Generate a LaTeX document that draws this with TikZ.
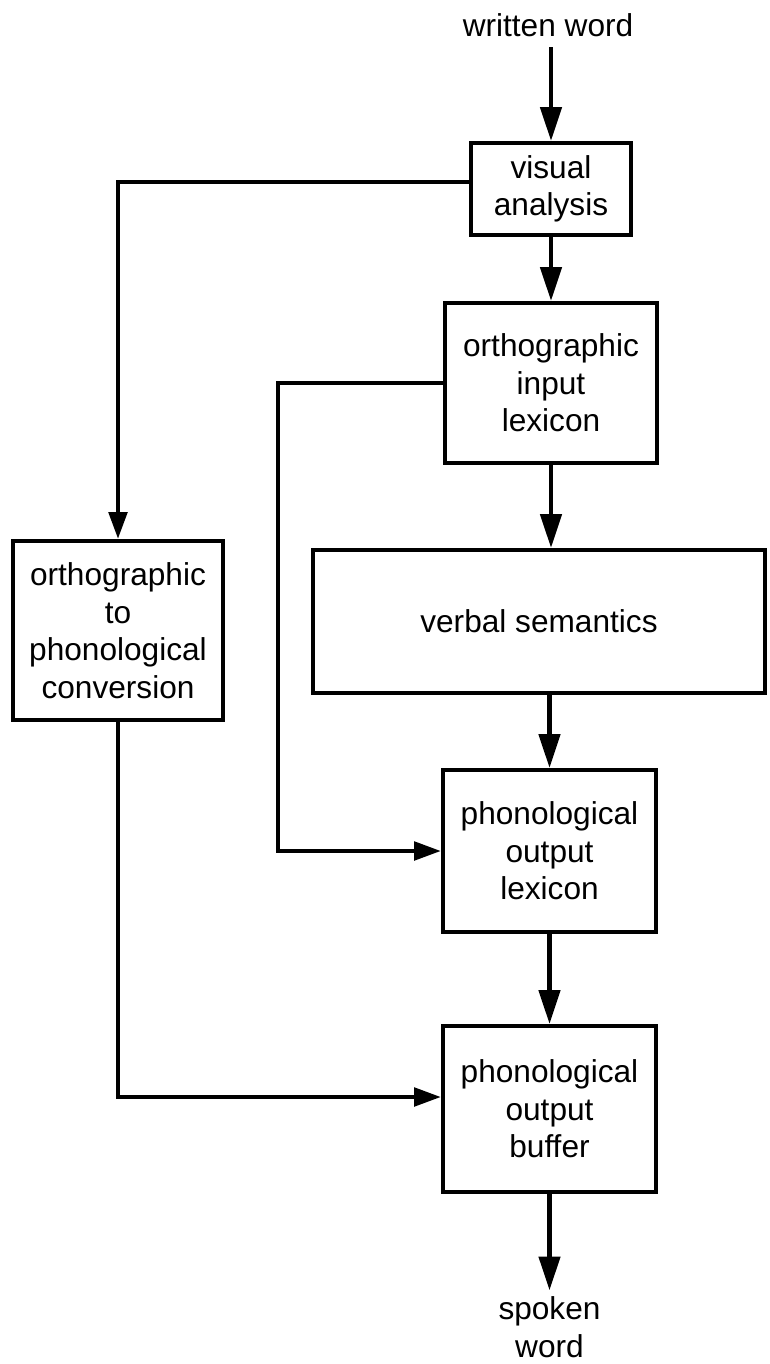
\documentclass[tikz,border=0pt]{standalone}
\usepackage{fontspec}
\setmainfont{Liberation Sans}
\usetikzlibrary{arrows.meta}

\begin{document}
\begin{tikzpicture}[
	font=\fontsize{22.5}{26.7}\selectfont,
	line width=3pt,
	box/.style={draw, rectangle, align=center, inner sep=0pt},
	flow/.style={-{Triangle[length=24pt,width=15pt]}},
	side/.style={-{Triangle[length=19pt,width=13pt]}}
	]
	\useasboundingbox (0,0) rectangle (19.225,-34.1);

	% boxes
	\node[align=center, inner sep=6pt] (written) at (13.7,-0.625) {written word};
	\node[box, minimum width=4.0cm, minimum height=2.3cm] (VA) at (13.775,-4.725) {visual\\analysis};
	\node[box, minimum width=5.3cm, minimum height=4.0cm] (OIL) at (13.775,-9.575) {orthographic\\input\\lexicon};
	\node[box, minimum width=5.25cm, minimum height=4.475cm] (OPC) at (2.95,-15.7625) {orthographic\\to\\phonological\\conversion};
	\node[box, minimum width=11.3cm, minimum height=3.575cm] (VS) at (13.475,-15.5375) {verbal semantics};
	\node[box, minimum width=5.325cm, minimum height=4.05cm] (POL) at (13.7375,-21.275) {phonological\\output\\lexicon};
	\node[box, minimum width=5.325cm, minimum height=4.15cm] (POB) at (13.7375,-27.725) {phonological\\output\\buffer};
	\node[align=center, inner sep=3pt] (spoken) at (13.7375,-33.175) {spoken\\word};

	% main route
	\draw[flow] (VA.north |- written.south) -- (VA.north);
	\draw[flow] (VA.south) -- (OIL.north);
	\draw[flow] (OIL.south) -- (OIL.south |- VS.north);
	\draw[flow] (POL.north |- VS.south) -- (POL.north);
	\draw[flow] (POL.south) -- (POB.north);
	\draw[flow] (POB.south) -- (spoken.north);

	% side routes
	\draw[side] ([yshift=0.175cm]VA.west) -| (OPC.north);
	\draw[side] (OIL.west) -- ++(-4.125,0) |- (POL.west);
	\draw[side] (OPC.south) |- ([yshift=0.3cm]POB.west);
\end{tikzpicture}
\end{document}
